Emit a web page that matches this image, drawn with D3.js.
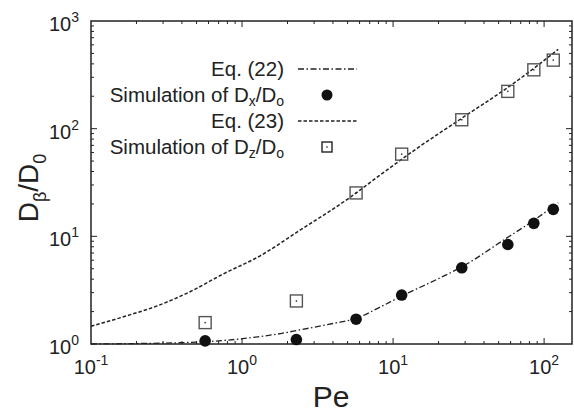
<!DOCTYPE html>
<html>
<head>
<meta charset="utf-8">
<script src="https://cdn.jsdelivr.net/npm/d3@7"></script>
<style>
  body { margin: 0; background: #fff; }
  svg text { font-family: "Liberation Sans", Arial, Helvetica, sans-serif; fill: #222; }
</style>
</head>
<body>
<svg id="chart" width="574" height="412"></svg>
<script>
// Eq. (22) curve
var eq22Pe = [0.1, 0.2, 0.4, 0.7, 1.3, 1.8, 2.4, 4, 5.7, 8.2, 11, 20, 28.5, 57.5, 85, 124];
var eq22D  = [1.0, 1.01, 1.03, 1.07, 1.17, 1.25, 1.35, 1.55, 1.73, 2.2, 2.72, 4.05, 5.2, 9.8, 14.0, 20.5];
// Eq. (23) curve
var eq23Pe = [0.1, 0.164, 0.272, 0.453, 0.75, 1.31, 2.42, 5.19, 8.2, 14.4, 28.5, 62.7, 124];
var eq23D  = [1.46, 1.79, 2.25, 3.06, 4.47, 6.56, 11.4, 23.0, 37.1, 65.6, 125, 263, 545];
// simulations
var simPe = [0.57, 2.29, 5.69, 11.4, 28.5, 57.5, 85.5, 115];
var simDx = [1.07, 1.1, 1.7, 2.85, 5.1, 8.4, 13.2, 17.8];
var simDz = [1.58, 2.51, 25.3, 58, 121, 222, 352, 433];
// tick labels (exponents)
var xExp = [-1, 0, 1, 2];
var yExp = [0, 1, 2, 3];

var margin = {top: 21, right: 2, bottom: 68, left: 91};
var W = 574, H = 412;
var svg = d3.select("#chart");

var x = d3.scaleLog().domain([0.1, 153]).range([margin.left, W - margin.right]);
var y = d3.scaleLog().domain([1, 1000]).range([H - margin.bottom, margin.top]);

var x0 = x.range()[0], x1 = x.range()[1], y0 = y.range()[0], y1 = y.range()[1];

// ticks on all four sides, pointing inward
var isMajor = function(v){ return Math.abs(Math.log10(v) - Math.round(Math.log10(v))) < 1e-6; };
var tk = svg.append("g").attr("stroke", "#222").attr("stroke-width", 1);
x.ticks().forEach(function(v){
  var len = isMajor(v) ? 6 : 3, px = x(v);
  if (px <= x0 + 0.5 || px >= x1 - 0.5) return;
  tk.append("line").attr("x1", px).attr("x2", px).attr("y1", y0).attr("y2", y0 - len);
  tk.append("line").attr("x1", px).attr("x2", px).attr("y1", y1).attr("y2", y1 + len);
});
y.ticks().forEach(function(v){
  var len = isMajor(v) ? 6 : 3, py = y(v);
  if (py >= y0 - 0.5 || py <= y1 + 0.5) return;
  tk.append("line").attr("y1", py).attr("y2", py).attr("x1", x0).attr("x2", x0 + len);
  tk.append("line").attr("y1", py).attr("y2", py).attr("x1", x1).attr("x2", x1 - len);
});

// frame
svg.append("rect").attr("x", x0).attr("y", y1).attr("width", x1 - x0).attr("height", y0 - y1)
  .attr("fill", "none").attr("stroke", "#222").attr("stroke-width", 1.5);

// tick labels
xExp.forEach(function(e){
  var t = svg.append("text").attr("x", x(Math.pow(10, e))).attr("y", y0 + 30)
    .attr("text-anchor", "middle").attr("font-size", 20);
  t.append("tspan").text("10");
  t.append("tspan").attr("font-size", 14).attr("dy", -9).text(e);
});
yExp.forEach(function(e){
  var t = svg.append("text").attr("x", 79).attr("y", y(Math.pow(10, e)) + 10)
    .attr("text-anchor", "end").attr("font-size", 20);
  t.append("tspan").text("10");
  t.append("tspan").attr("font-size", 14).attr("dy", -9).text(e);
});

// axis titles
svg.append("text").attr("x", 331).attr("y", 407).attr("text-anchor", "middle")
  .attr("font-size", 30).text("Pe");
var yl = svg.append("text").attr("transform", "translate(38,188) rotate(-90)")
  .attr("text-anchor", "middle").attr("font-size", 28);
yl.append("tspan").text("D");
yl.append("tspan").attr("font-size", 18).attr("dy", 8).text("β");
yl.append("tspan").attr("dy", -8).text("/D");
yl.append("tspan").attr("font-size", 18).attr("dy", 8).text("0");

// curves
var line = d3.line().x(function(d){ return x(d[0]); }).y(function(d){ return y(d[1]); })
  .curve(d3.curveMonotoneX);
var plot = svg.append("g");
plot.append("path").datum(d3.zip(eq22Pe, eq22D)).attr("d", line)
  .attr("fill", "none").attr("stroke", "#222").attr("stroke-width", 1.3)
  .attr("stroke-dasharray", "6,2.5,1.5,2.5");
plot.append("path").datum(d3.zip(eq23Pe, eq23D)).attr("d", line)
  .attr("fill", "none").attr("stroke", "#222").attr("stroke-width", 1.5)
  .attr("stroke-dasharray", "3.5,2");

// markers
function square(g, cx, cy, s, col){
  g.append("rect").attr("x", cx - s/2).attr("y", cy - s/2).attr("width", s).attr("height", s)
    .attr("fill", "none").attr("stroke", col).attr("stroke-width", 1.4);
  g.append("rect").attr("x", cx - 0.7).attr("y", cy - 0.7).attr("width", 1.4).attr("height", 1.4)
    .attr("fill", "#222");
}
simPe.forEach(function(p, i){
  square(plot, x(p), y(simDz[i]), 12, "#555");
  plot.append("circle").attr("cx", x(p)).attr("cy", y(simDx[i])).attr("r", 5.8).attr("fill", "#111");
});

// legend
var lg = svg.append("g");
var rows = [69, 95, 121, 147];
var labs = [
  [["Eq. (22)", 0]],
  [["Simulation of D", 0], ["x", 1], ["/D", 0], ["o", 1]],
  [["Eq. (23)", 0]],
  [["Simulation of D", 0], ["z", 1], ["/D", 0], ["o", 1]]
];
rows.forEach(function(r, i){
  var t = lg.append("text").attr("x", 284).attr("y", r + 7).attr("text-anchor", "end").attr("font-size", 20.5);
  var prevSub = 0;
  labs[i].forEach(function(p){
    var sp = t.append("tspan").text(p[0]);
    if (p[1]) sp.attr("font-size", 14);
    var dy = (p[1] ? 3.5 : 0) - (prevSub ? 3.5 : 0);
    if (dy) sp.attr("dy", dy);
    prevSub = p[1];
  });
});
lg.append("line").attr("x1", 298).attr("x2", 357).attr("y1", rows[0]).attr("y2", rows[0])
  .attr("stroke", "#222").attr("stroke-width", 1.3).attr("stroke-dasharray", "6,2.5,1.5,2.5");
lg.append("circle").attr("cx", 327).attr("cy", rows[1]).attr("r", 5.5).attr("fill", "#111");
lg.append("line").attr("x1", 298).attr("x2", 357).attr("y1", rows[2]).attr("y2", rows[2])
  .attr("stroke", "#222").attr("stroke-width", 1.5).attr("stroke-dasharray", "3.5,2");
square(lg, 327, rows[3], 10, "#222");
</script>
</body>
</html>
